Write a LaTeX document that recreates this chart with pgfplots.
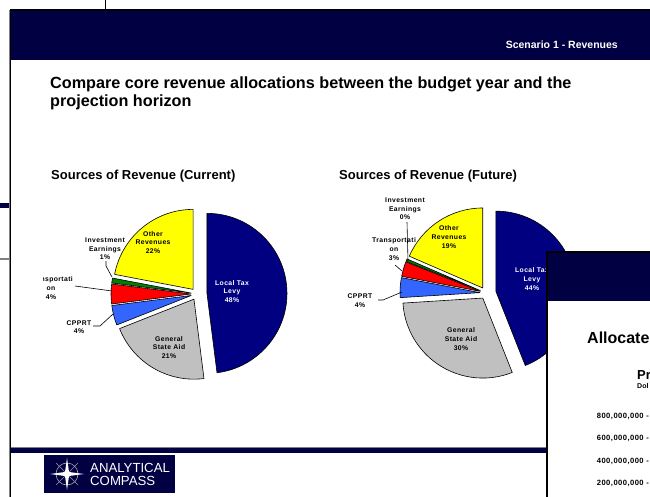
\documentclass[border=0pt]{standalone}
\usepackage{pgfplots}
\pgfplotsset{compat=1.18}
\usepackage{fontspec}
\setmainfont{Liberation Sans}
\newfontfamily\lbl[LetterSpace=6]{Liberation Sans}
\definecolor{slidenavy}{RGB}{0,0,66}
\definecolor{pienavy}{RGB}{0,0,128}
\definecolor{pieyellow}{RGB}{255,255,0}
\definecolor{piegray}{RGB}{192,192,192}
\definecolor{piered}{RGB}{255,0,0}
\definecolor{pieblue}{RGB}{51,102,255}
\definecolor{piegreen}{RGB}{0,128,0}
\tikzset{pl/.style={font=\lbl\bfseries\fontsize{6.8}{8.6}\selectfont, align=center, inner sep=0pt}}
% #1,#2 centre (pixels), #3 radius, #4 list value/colour/explode
\newcommand{\drawpie}[4]{%
  \xdef\pieang{90}%
  \foreach \v/\c/\e in {#4} {%
    \pgfmathsetmacro\pa{\pieang}%
    \pgfmathsetmacro\pb{\pieang-3.6*\v}%
    \pgfmathsetmacro\pmid{(\pa+\pb)/2}%
    \filldraw[fill=\c, draw=black, line width=0.6pt, line join=round]
      ([shift={(\pmid:\e pt)}]axis cs:#1,#2) -- ++(\pa:#3pt)
      arc[start angle=\pa, end angle=\pb, radius=#3pt] -- cycle;%
    \xdef\pieang{\pb}%
  }%
}
\begin{document}
\begin{tikzpicture}
\begin{axis}[x=1pt, y=1pt, xmin=0, xmax=650, ymin=0, ymax=497, y dir=reverse,
  hide axis, clip=false, at={(0,0)}, anchor=south west]
\pgfplotsextra{
  % background window pieces
  \draw[black, line width=1pt] (axis cs:105,0) -- (axis cs:105,10);
  \fill[slidenavy] (axis cs:0,203) rectangle (axis cs:9,208);
  \fill[gray] (axis cs:0,258) rectangle (axis cs:9,260);
  % slide frame
  \fill[gray] (axis cs:8.5,10) rectangle (axis cs:9.5,497);
  \fill[black] (axis cs:9.5,9) rectangle (axis cs:11,497);
  \fill[black] (axis cs:9.5,9) rectangle (axis cs:650,11);
  \fill[slidenavy] (axis cs:11,11) rectangle (axis cs:650,60);
  \node[anchor=base east, text=white, font=\bfseries\fontsize{10.5}{12}\selectfont, inner sep=0pt] at (axis cs:618,49) {Scenario 1 - Revenues};
  \node[anchor=base west, font=\bfseries\fontsize{16.2}{18}\selectfont, inner sep=0pt] at (axis cs:50,89) {Compare core revenue allocations between the budget year and the};
  \node[anchor=base west, font=\bfseries\fontsize{16.2}{18}\selectfont, inner sep=0pt] at (axis cs:50,107) {projection horizon};
  \node[anchor=base west, font=\bfseries\fontsize{13}{15}\selectfont, inner sep=0pt] at (axis cs:51,179.5) {Sources of Revenue (Current)};
  \node[anchor=base west, font=\bfseries\fontsize{13}{15}\selectfont, inner sep=0pt] at (axis cs:339,179.5) {Sources of Revenue (Future)};
  % bottom band
  \fill[gray] (axis cs:11,446.5) rectangle (axis cs:546,448);
  \fill[slidenavy] (axis cs:11,448) rectangle (axis cs:546,453);
  % logo
  \fill[slidenavy] (axis cs:44,455) rectangle (axis cs:175,493);
  \begin{scope}[shift={(axis cs:67,474)}]
    \draw[gray!70, line width=0.6pt] (0,0) circle[radius=11pt];
    \draw[gray!80, line width=0.5pt] (-11pt,-11pt) -- (11pt,11pt) (-11pt,11pt) -- (11pt,-11pt);
    \fill[white] (0,16pt) -- (2pt,2pt) -- (17pt,0) -- (2pt,-2pt) -- (0,-16pt) -- (-2pt,-2pt) -- (-17pt,0) -- (-2pt,2pt) -- cycle;
  \end{scope}
  \node[anchor=base west, text=white, font=\fontsize{13.2}{14}\selectfont, inner sep=0pt] at (axis cs:90,472.5) {ANALYTICAL};
  \node[anchor=base west, text=white, font=\fontsize{13.2}{14}\selectfont, inner sep=0pt] at (axis cs:90,485) {COMPASS};
  % ---- pie: current
  \drawpie{197}{294}{80}{48/pienavy/10, 21/piegray/6, 4/pieblue/6, 4/piered/6, 1/piegreen/6, 22/pieyellow/6}
  \node[pl, text=white] at (axis cs:232,291.5) {Local Tax\\Levy\\48\%};
  \node[pl] at (axis cs:169,347.5) {General\\State Aid\\21\%};
  \node[pl] at (axis cs:153,242.5) {Other\\Revenues\\22\%};
  \node[pl] at (axis cs:105,249) {Investment\\Earnings\\1\%};
  \node[pl] at (axis cs:79,327) {CPPRT\\4\%};
  \begin{scope}
    \clip (axis cs:43,260) rectangle (axis cs:100,310);
    \node[pl] at (axis cs:51,288) {Transportati\\on\\4\%};
  \end{scope}
  \draw[black, line width=0.6pt] (axis cs:106,261) -- (axis cs:106,266) -- (axis cs:112,277);
  \draw[black, line width=0.6pt] (axis cs:75,286) -- (axis cs:112,291);
  \draw[black, line width=0.6pt] (axis cs:93,326) -- (axis cs:100,326) -- (axis cs:113,314);
  % ---- pie: future
  \drawpie{486}{293}{80}{44/pienavy/10, 30/piegray/6, 4/pieblue/6, 3/piered/6, 0.5/piegreen/6, 18.5/pieyellow/6}
  \node[pl, text=white] at (axis cs:532,279) {Local Tax\\Levy\\44\%};
  \node[pl] at (axis cs:461,339) {General\\State Aid\\30\%};
  \node[pl] at (axis cs:449,237) {Other\\Revenues\\19\%};
  \node[pl] at (axis cs:405,209) {Investment\\Earnings\\0\%};
  \node[pl] at (axis cs:394,249) {Transportati\\on\\3\%};
  \node[pl] at (axis cs:360,300.5) {CPPRT\\4\%};
  \draw[black, line width=0.6pt] (axis cs:407,222) -- (axis cs:408,261);
  \draw[black, line width=0.6pt] (axis cs:395,265) -- (axis cs:402,271);
  \draw[black, line width=0.6pt] (axis cs:378,300) -- (axis cs:383,300) -- (axis cs:402,292);
  % ---- overlapping window
  \fill[white] (axis cs:546,251) rectangle (axis cs:650,497);
  \fill[black] (axis cs:545.5,250.5) rectangle (axis cs:547.5,497);
  \fill[black] (axis cs:545.5,250.5) rectangle (axis cs:650,252.5);
  \fill[slidenavy] (axis cs:547.5,252.5) rectangle (axis cs:650,301);
  \node[anchor=base west, font=\bfseries\fontsize{16}{18}\selectfont, inner sep=0pt] at (axis cs:587,343.5) {Allocate};
  \node[anchor=base west, font=\bfseries\fontsize{13}{15}\selectfont, inner sep=0pt] at (axis cs:637,379.5) {Pr};
  \node[anchor=base west, font=\bfseries\fontsize{7}{8}\selectfont, inner sep=0pt] at (axis cs:637,388) {Dol};
  \node[anchor=base east, font=\lbl\bfseries\fontsize{7.6}{9}\selectfont, inner sep=0pt] at (axis cs:649,418) {800,000,000 -};
  \node[anchor=base east, font=\lbl\bfseries\fontsize{7.6}{9}\selectfont, inner sep=0pt] at (axis cs:649,440.5) {600,000,000 -};
  \node[anchor=base east, font=\lbl\bfseries\fontsize{7.6}{9}\selectfont, inner sep=0pt] at (axis cs:649,463.5) {400,000,000 -};
  \node[anchor=base east, font=\lbl\bfseries\fontsize{7.6}{9}\selectfont, inner sep=0pt] at (axis cs:649,485.5) {200,000,000 -};
}
\end{axis}
\pgfresetboundingbox
\useasboundingbox (0,0) rectangle (650pt,497pt);
\end{tikzpicture}
\end{document}
